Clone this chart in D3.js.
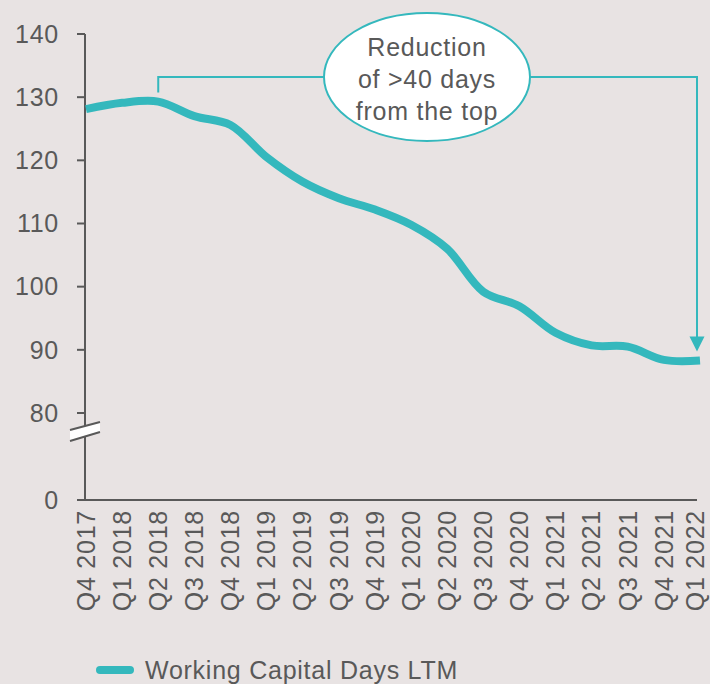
<!DOCTYPE html>
<html>
<head>
<meta charset="utf-8">
<script src="https://cdn.jsdelivr.net/npm/d3@7"></script>
<style>
	html, body { margin: 0; padding: 0; background: #e8e3e3; }
	svg { display: block; font-family: 'Liberation Sans', Arial, sans-serif; }
	.label { fill: #595959; font-size: 25px; letter-spacing: 0.75px; }
</style>
</head>
<body>
<div id="chart"></div>
<script>
// quarters on the x axis
const quarters = [
	'Q4 2017', 'Q1 2018', 'Q2 2018', 'Q3 2018', 'Q4 2018',
	'Q1 2019', 'Q2 2019', 'Q3 2019', 'Q4 2019',
	'Q1 2020', 'Q2 2020', 'Q3 2020', 'Q4 2020',
	'Q1 2021', 'Q2 2021', 'Q3 2021', 'Q4 2021', 'Q1 2022',
]
// working capital days, last twelve months
const workingCapitalDays = [
	128.1, 129.1, 129.3, 127.0, 125.6,
	120.5, 116.6, 114.0, 112.2,
	109.8, 106.0, 99.2, 96.9,
	92.7, 90.7, 90.5, 88.4, 88.3,
]
const yTicks = [0, 80, 90, 100, 110, 120, 130, 140]
const seriesName = 'Working Capital Days LTM'
const noteLines = ['Reduction', 'of >40 days', 'from the top']

const width = 710
const height = 684
const teal = '#34b8bd'
const grey = '#595959'

const svg = d3.select('#chart')
	.append('svg')
	.attr('width', width)
	.attr('height', height)

// scales - y axis is broken between 0 and 80
const x = d3.scalePoint()
	.domain(quarters)
	.range([86, 700])

const y = d3.scaleLinear()
	.domain([0, 80, 140])
	.range([500, 413, 34])

const axisX = 85

// y axis line + ticks
svg.append('line')
	.attr('x1', axisX).attr('x2', axisX)
	.attr('y1', y(140)).attr('y2', y(0))
	.attr('stroke', grey)
	.attr('stroke-width', 2)

svg.selectAll('line.ytick')
	.data(yTicks)
	.enter()
	.append('line')
	.attr('class', 'ytick')
	.attr('x1', axisX - 8).attr('x2', axisX)
	.attr('y1', d => y(d)).attr('y2', d => y(d))
	.attr('stroke', grey)
	.attr('stroke-width', 2)

svg.selectAll('text.ylabel')
	.data(yTicks)
	.enter()
	.append('text')
	.attr('class', 'label ylabel')
	.attr('x', 59)
	.attr('y', d => y(d))
	.attr('dy', '0.35em')
	.attr('text-anchor', 'end')
	.text(d => d)

// x axis line
svg.append('line')
	.attr('x1', axisX - 8).attr('x2', 697)
	.attr('y1', y(0)).attr('y2', y(0))
	.attr('stroke', grey)
	.attr('stroke-width', 2)

// rotated quarter labels, last one clamped so it stays inside the page
svg.selectAll('text.xlabel')
	.data(quarters)
	.enter()
	.append('text')
	.attr('class', 'label xlabel')
	.attr('transform', d => `translate(${Math.min(x(d), width - 15)},510) rotate(-90)`)
	.attr('dy', '0.35em')
	.attr('text-anchor', 'end')
	.text(d => d)

// axis break marker
const brk = svg.append('g')
brk.append('path')
	.attr('d', 'M70,430 L100,422 L100,432 L70,441 Z')
	.attr('fill', '#ffffff')
brk.append('path')
	.attr('d', 'M70,430 L100,422 M70,441 L100,432')
	.attr('stroke', grey)
	.attr('stroke-width', 2)

// the series line
const line = d3.line()
	.x((d, i) => x(quarters[i]))
	.y(d => y(d))
	.curve(d3.curveCatmullRom)

svg.append('path')
	.datum(workingCapitalDays)
	.attr('d', line)
	.attr('fill', 'none')
	.attr('stroke', teal)
	.attr('stroke-width', 8)

// annotation bracket from the peak to the last quarter
const bracketY = 77
const leftX = x(quarters[2])
const rightX = x(quarters[quarters.length - 1]) - 3
const tipY = y(workingCapitalDays[workingCapitalDays.length - 1]) - 9

svg.append('path')
	.attr('d', `M${leftX},${y(workingCapitalDays[2]) - 9} V${bracketY} H${rightX} V${tipY - 14}`)
	.attr('fill', 'none')
	.attr('stroke', teal)
	.attr('stroke-width', 2)

svg.append('path')
	.attr('d', `M${rightX - 7.5},${tipY - 15} L${rightX + 7.5},${tipY - 15} L${rightX},${tipY} Z`)
	.attr('fill', teal)

// bubble
const bubble = { cx: 427, cy: 77, rx: 103, ry: 64 }
svg.append('ellipse')
	.attr('cx', bubble.cx).attr('cy', bubble.cy)
	.attr('rx', bubble.rx).attr('ry', bubble.ry)
	.attr('fill', '#ffffff')
	.attr('stroke', teal)
	.attr('stroke-width', 2)

svg.selectAll('text.note')
	.data(noteLines)
	.enter()
	.append('text')
	.attr('class', 'label note')
	.attr('x', bubble.cx)
	.attr('y', (d, i) => 56 + i * 32)
	.attr('text-anchor', 'middle')
	.text(d => d)

// legend
svg.append('line')
	.attr('x1', 100).attr('x2', 130)
	.attr('y1', 670).attr('y2', 670)
	.attr('stroke', teal)
	.attr('stroke-width', 8)
	.attr('stroke-linecap', 'round')

svg.append('text')
	.attr('class', 'label')
	.attr('x', 145)
	.attr('y', 679)
	.text(seriesName)
</script>
</body>
</html>
